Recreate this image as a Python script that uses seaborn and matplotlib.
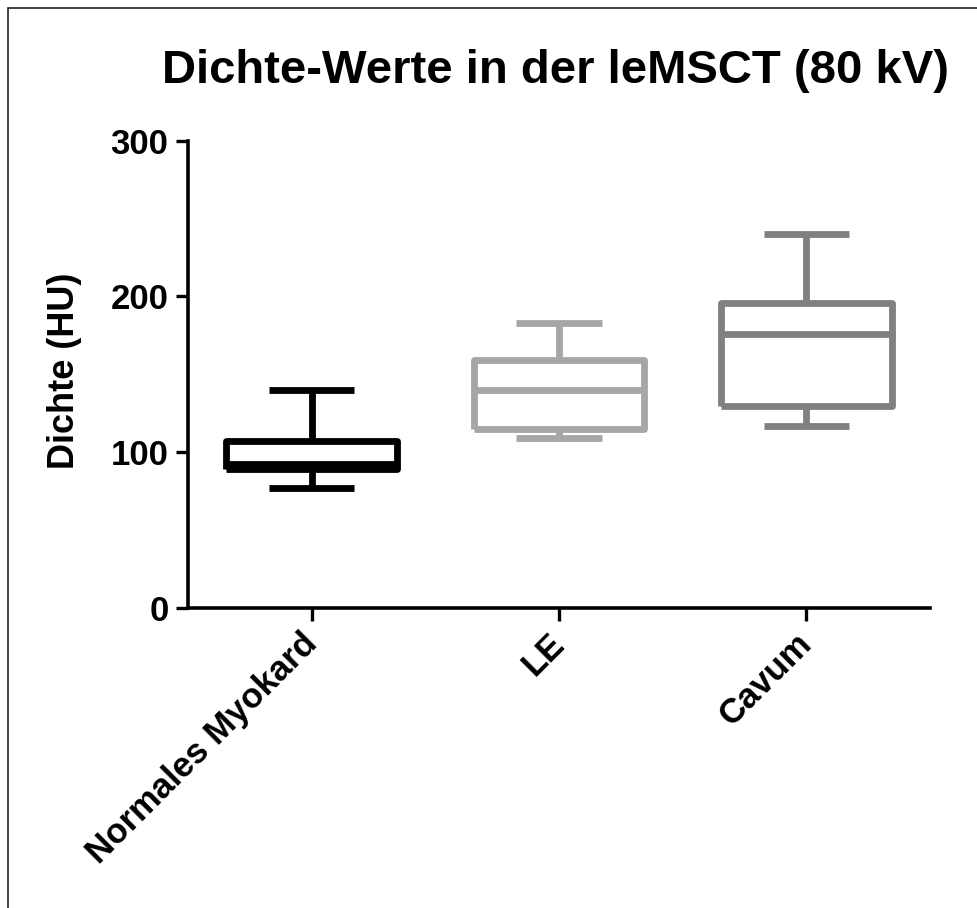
import pandas as pd
import numpy as np
import seaborn as sns
import matplotlib.pyplot as plt
from matplotlib.patches import Rectangle

# five-number summary per group (min, Q1, median, Q3, max)
groups = ['Normales Myokard', 'LE', 'Cavum']
myokard = [77, 89, 92.5, 107, 140]
le = [109, 115, 140, 159, 183]
cavum = [117, 130, 176, 196, 240]
colors = ['#000000', '#a6a6a8', '#808080']

df = pd.DataFrame({
    'gruppe': np.repeat(groups, 5),
    'dichte': myokard + le + cavum,
})

sns.set_style('ticks')
plt.rcParams['font.family'] = ['Liberation Sans', 'DejaVu Sans']
plt.rcParams['font.weight'] = 'bold'
plt.rcParams['text.color'] = 'black'
plt.rcParams['axes.labelcolor'] = 'black'
plt.rcParams['xtick.color'] = 'black'
plt.rcParams['ytick.color'] = 'black'
plt.rcParams['axes.edgecolor'] = 'black'

fig = plt.figure(figsize=(9.77, 9.08), dpi=100)
ax = fig.add_axes([188/977, 300/908, 742/977, (608-140.7)/908])

sns.boxplot(data=df, x='gruppe', y='dichte', hue='gruppe', palette=colors,
            order=groups, hue_order=groups, fill=False, legend=False,
            whis=(0, 100), width=0.69, linewidth=4.9, ax=ax)

for ln in ax.lines:
    ln.set_solid_joinstyle('round')
    ln.set_solid_capstyle('butt')
for p in ax.patches:
    p.set_joinstyle('round')

ax.set_xlim(-0.5, 2.5)
ax.set_ylim(0, 300)
ax.set_yticks([0, 100, 200, 300])
sns.despine(ax=ax)
for s in ['left', 'bottom']:
    ax.spines[s].set_linewidth(2.6)
    ax.spines[s].set_color('black')
ax.tick_params(axis='both', width=2.4, length=9, colors='black')
ax.tick_params(axis='y', pad=5, labelsize=25)
ax.tick_params(axis='x', pad=13, labelsize=25)
ax.set_xlabel('')
ax.set_ylabel('Dichte (HU)', fontsize=26, fontweight='bold', color='black')
ax.yaxis.set_label_coords(-0.143, 0.507)
ax.set_xticks(range(3))
ax.set_xticklabels(groups, rotation=45, ha='right', va='center',
                   rotation_mode='anchor', fontweight='bold')
for t in ax.get_yticklabels():
    t.set_fontweight('bold')

fig.text(556/977, 1 - 71/908, 'Dichte-Werte in der leMSCT (80 kV)',
         ha='center', va='center', fontsize=34, fontweight='bold', color='black')

fig.patches.append(Rectangle((8/977, -0.1), 1.2, 1.1 - 8/908, transform=fig.transFigure,
                             fill=False, edgecolor='#222222', linewidth=1.2))

plt.savefig('out.png', dpi=100)
